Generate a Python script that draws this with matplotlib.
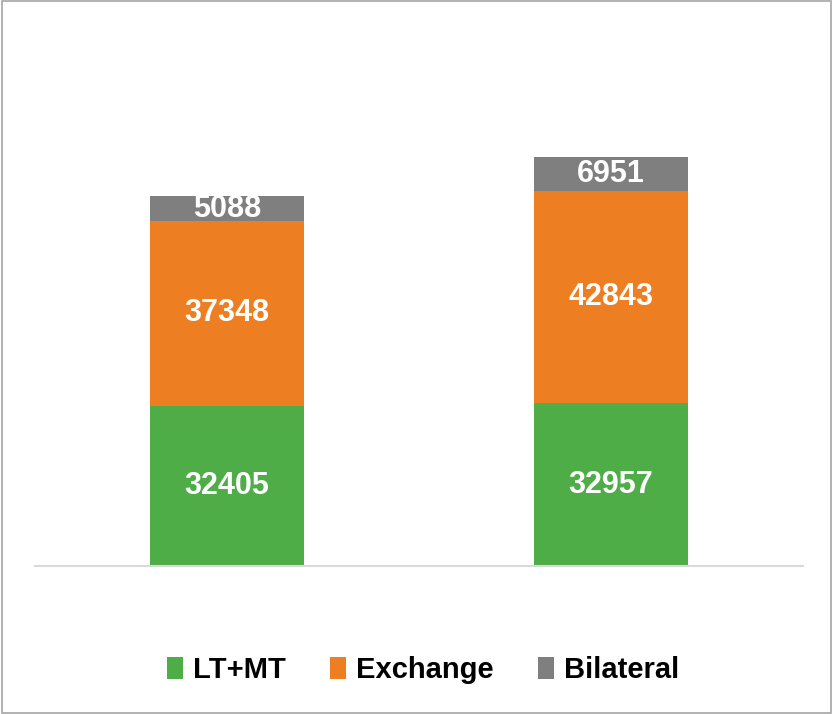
import matplotlib
matplotlib.use("Agg")
import matplotlib.pyplot as plt
import numpy as np

# data
categories = ["Period 1", "Period 2"]
series_names = ["LT+MT", "Exchange", "Bilateral"]
lt_mt = [32405, 32957]
exchange = [37348, 42843]
bilateral = [5088, 6951]
colors = ["#4EAD47", "#EE7E22", "#7F7F7F"]

plt.rcParams["font.family"] = ["Liberation Sans", "DejaVu Sans"]

fig = plt.figure(figsize=(8.33, 7.14), dpi=100)
ax = fig.add_axes([35 / 833, 148 / 714, 768 / 833, 445 / 714])

x = np.arange(len(categories))
bottom = np.zeros(len(categories))
for name, vals, col in zip(series_names, [lt_mt, exchange, bilateral], colors):
    bars = ax.bar(x, vals, width=0.4, bottom=bottom, color=col, label=name)
    ax.bar_label(bars, labels=[str(v) for v in vals], label_type="center",
                 color="white", fontsize=22, fontweight="bold")
    bottom += np.array(vals)

ax.set_xlim(-0.5, 1.5)
ax.set_ylim(0, 90000)
ax.set_xticks([])
ax.set_yticks([])
for side in ["top", "right", "left"]:
    ax.spines[side].set_visible(False)
ax.spines["bottom"].set_color("#D9D9D9")
ax.spines["bottom"].set_linewidth(1.5)

leg = fig.legend(loc="center", bbox_to_anchor=(0.508, 1 - 670 / 714), ncol=3,
                 frameon=False, handlelength=0.55, handleheight=0.8,
                 handletextpad=0.35, columnspacing=1.5,
                 prop={"size": 21, "weight": "bold"})

# outer border
fig.patches.append(plt.Rectangle((0.002, 0.002), 0.996, 0.996, transform=fig.transFigure,
                                 fill=False, edgecolor="#A6A6A6", linewidth=1.2))

plt.savefig("out.png", dpi=100)
plt.close()
